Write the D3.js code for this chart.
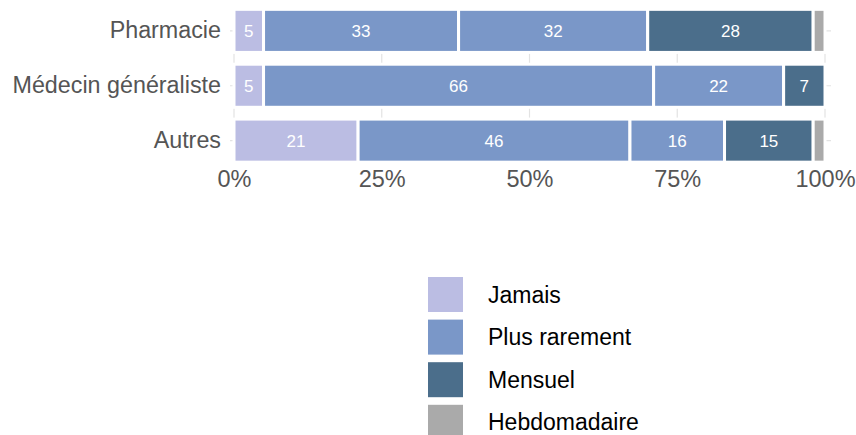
<!DOCTYPE html>
<html>
<head>
<meta charset="utf-8">
<script src="https://cdn.jsdelivr.net/npm/d3@7"></script>
<style>
  body { margin: 0; background: #fff; }
  svg { font-family: "Liberation Sans", Arial, Helvetica, sans-serif; }
</style>
</head>
<body>
<svg id="chart"></svg>
<script>
// ---------------- data ----------------
const categories = ['Pharmacie', 'Médecin généraliste', 'Autres'];
const seriesKeys = ['jamais', 'rare', 'rare2', 'mensuel', 'hebdo'];
const jamais = [5, 5, 21];
const plusRarement = [33, 66, 46];
const plusRarementBis = [32, 22, 16];
const mensuel = [28, 7, 15];
const hebdomadaire = [2, 0, 2];
const xTicks = [0, 25, 50, 75, 100];
const legendLabels = ['Jamais', 'Plus rarement', 'Mensuel', 'Hebdomadaire'];
const legendKeys = ['jamais', 'rare', 'mensuel', 'hebdo'];

const width = 856, height = 435;

// colours: the two "plus rarement" parts share one colour
const colors = {
  jamais: '#bbbde3',
  rare: '#7a97c8',
  rare2: '#7a97c8',
  mensuel: '#4b6e8b',
  hebdo: '#aaaaaa'
};

const table = categories.map((c, i) => ({
  cat: c,
  jamais: jamais[i],
  rare: plusRarement[i],
  rare2: plusRarementBis[i],
  mensuel: mensuel[i],
  hebdo: hebdomadaire[i]
}));

const svg = d3.select('#chart')
  .attr('width', width)
  .attr('height', height);

//------------- scales -------------
const x = d3.scaleLinear().domain([0, 100]).range([234, 825]);
const y = d3.scaleBand().domain(categories).range([5.5, 166]).paddingInner(0.215).paddingOuter(0.07);

const panel = { left: 230, right: 831, top: 10, bottom: 161 };

//------------- grid -------------
svg.append('g')
  .selectAll('line')
  .data(xTicks)
  .join('line')
    .attr('x1', d => x(d)).attr('x2', d => x(d))
    .attr('y1', panel.top).attr('y2', panel.bottom)
    .attr('stroke', '#e3e3e3')
    .attr('stroke-width', 1.2);

svg.append('g')
  .selectAll('line')
  .data(categories)
  .join('line')
    .attr('x1', panel.left).attr('x2', panel.right)
    .attr('y1', d => y(d) + y.bandwidth() / 2)
    .attr('y2', d => y(d) + y.bandwidth() / 2)
    .attr('stroke', '#e3e3e3')
    .attr('stroke-width', 1.2);

//------------- bars -------------
const stacked = d3.stack().keys(seriesKeys)(table);

const layers = svg.append('g')
  .selectAll('g')
  .data(stacked)
  .join('g')
    .attr('fill', d => colors[d.key]);

layers.selectAll('rect')
  .data(d => d.filter(s => s[1] > s[0]))
  .join('rect')
    .attr('x', d => x(d[0]))
    .attr('width', d => x(d[1]) - x(d[0]))
    .attr('y', d => y(d.data.cat))
    .attr('height', y.bandwidth())
    .attr('stroke', '#fff')
    .attr('stroke-width', 3);

// value labels (not on the thin grey part)
layers.filter(d => d.key !== 'hebdo')
  .selectAll('text')
  .data(d => d.filter(s => s[1] > s[0]))
  .join('text')
    .attr('x', d => (x(d[0]) + x(d[1])) / 2)
    .attr('y', d => y(d.data.cat) + y.bandwidth() / 2)
    .attr('dy', '0.35em')
    .attr('text-anchor', 'middle')
    .attr('fill', '#fff')
    .attr('font-size', 17)
    .text(d => d[1] - d[0]);

//------------- axes -------------
const xAxis = svg.append('g')
  .attr('transform', `translate(0,${panel.bottom})`)
  .call(d3.axisBottom(x).tickValues(xTicks).tickFormat(d => d + '%').tickSize(0).tickPadding(9));
xAxis.select('.domain').remove();
xAxis.selectAll('text')
  .attr('font-size', 23.5)
  .attr('fill', '#555')
  .attr('font-family', null);

const yAxis = svg.append('g')
  .attr('transform', `translate(${panel.left},0)`)
  .call(d3.axisLeft(y).tickSize(0).tickPadding(9));
yAxis.select('.domain').remove();
yAxis.selectAll('text')
  .attr('font-size', 23.3)
  .attr('fill', '#555')
  .attr('font-family', null);

//------------- legend -------------
const legend = svg.append('g')
  .attr('transform', 'translate(428,277)');

const item = legend.selectAll('g')
  .data(legendKeys)
  .join('g')
    .attr('transform', (d, i) => `translate(0,${i * 42.6})`);

item.append('rect')
  .attr('width', 35)
  .attr('height', 35)
  .attr('fill', d => colors[d]);

item.append('text')
  .attr('x', 60)
  .attr('y', 17.5)
  .attr('dy', '0.35em')
  .attr('font-size', 23)
  .attr('fill', '#000')
  .text((d, i) => legendLabels[i]);
</script>
</body>
</html>
